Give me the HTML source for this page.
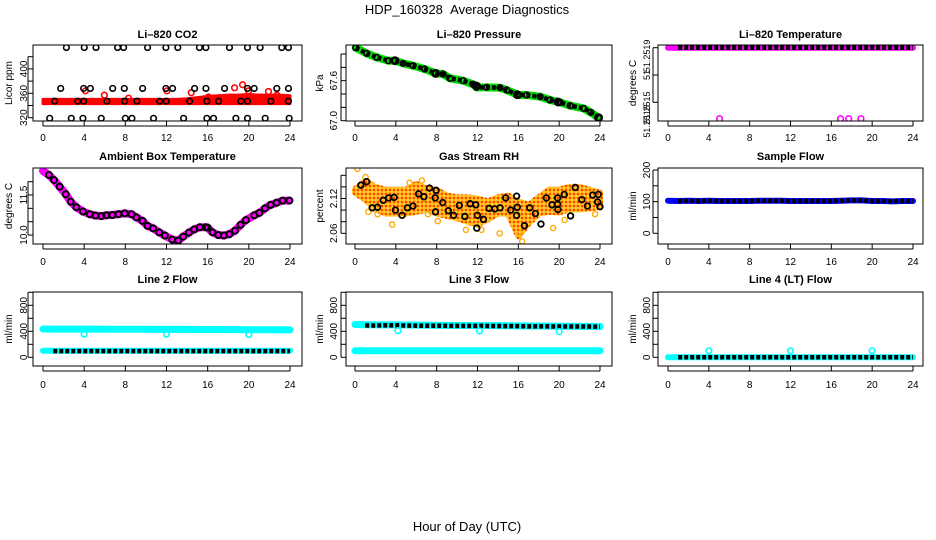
<!DOCTYPE html>
<html><head><meta charset="utf-8"><style>
html,body{margin:0;padding:0;background:#fff;}
svg{display:block;font-family:"Liberation Sans",sans-serif;}
</style></head><body>
<svg id="chart" width="936" height="540" viewBox="0 0 936 540">
<defs>
<pattern id="rhpat" width="4" height="4" patternUnits="userSpaceOnUse">
<rect width="4" height="4" fill="#ffd24a"/>
<circle cx="2" cy="2" r="1.5" fill="#ff3a00" stroke="#ffae00" stroke-width="0.8"/>
</pattern>
</defs>
<text x="467" y="14" font-size="13" text-anchor="middle" xml:space="preserve">HDP_160328&#160;&#160;Average Diagnostics</text>
<text x="467" y="531" font-size="13" text-anchor="middle">Hour of Day (UTC)</text>
</svg>
<script>
// ---------- data ----------
const hourTicks = [0,4,8,12,16,20,24];
const hours25 = [0,1,2,3,4,5,6,7,8,9,10,11,12,13,14,15,16,17,18,19,20,21,22,23,24];

// CO2
const co2BlackHours = [2.27,4.01,5.15,7.25,7.83,10.16,11.94,13.1,15.2,15.83,18.12,19.87,21.1,23.2,23.85,
 1.72,3.95,4.6,6.77,7.9,9.68,11.94,12.59,14.73,15.83,17.64,19.87,20.52,22.72,23.85,
 1.13,3.37,3.95,6.21,7.93,9.13,11.33,11.97,14.24,15.92,17.06,19.23,19.87,22.14,23.85,
 0.65,2.75,3.88,5.66,8.0,8.64,10.74,13.66,15.92,16.57,18.74,19.87,21.59,23.92];
const co2BlackValues = [435,435,435,435,435,435,435,435,435,435,435,435,435,435,435,
 368,368,368,368,368,368,368,368,368,368,368,368,368,368,368,
 347,347,347,347,347,347,347,347,347,347,347,347,347,347,347,
 319,319,319,319,319,319,319,319,319,319,319,319,319,319];
const co2RedLo = [343,343,343,343,343,343,343,343,343,343,343,343,343,343,343,343,343,343,343,343,343,343,343,343,343];
const co2RedHi = [350,350,350,350,350,350,350,350,350,350,350,350,350,350,351,353,355,356,357,357,358,357,357,357,356];
const co2RedOutHours = [4.12,5.96,8.32,12.04,14.4,16.08,18.61,19.39,19.97,21.91,22.72];
const co2RedOutValues = [364,357,352,364,361,354,369,374,364,363,357];

// Pressure
const presHours = [0.07,1.14,2.12,3.27,3.92,4.71,5.69,6.83,7.9,8.63,9.31,10.6,11.58,11.9,12.9,14.2,14.87,16.0,16.83,18.14,19.12,20.1,21.08,22.39,23.1];
const presValues = [68.095,68.01,67.95,67.9,67.9,67.86,67.825,67.775,67.71,67.7,67.635,67.6,67.545,67.5,67.5,67.495,67.46,67.385,67.385,67.36,67.31,67.275,67.225,67.185,67.125];
const presEndHour = 23.86, presEndValue = 67.045;

// Li-820 temperature
const tempValues = [51.2519,51.2519,51.2519,51.2519,51.2519,51.2519,51.2519,51.2519,51.2519,51.2519,51.2519,51.2519,51.2519,51.2519,51.2519,51.2519,51.2519,51.2519,51.2519,51.2519,51.2519,51.2519,51.2519,51.2519,51.2519];
const tempOutHours = [5.05,16.9,17.7,18.9];
const tempOutValues = [51.25164,51.25164,51.25164,51.25164];

// Ambient box temperature
const ambHours = [0,0.58,1.07,1.62,2.21,2.69,3.24,3.89,4.54,5.09,5.68,6.16,6.75,7.33,7.95,8.6,9.08,9.67,10.16,10.7,11.29,11.84,12.55,13.14,13.62,14.18,14.69,15.24,15.82,15.99,16.47,17.03,17.58,18.1,18.65,19.2,19.72,20.53,21.02,21.57,22.12,22.7,23.29,23.94];
const ambValues = [12.4,12.25,12.06,11.81,11.53,11.25,11.04,10.88,10.78,10.73,10.71,10.74,10.75,10.78,10.81,10.78,10.66,10.53,10.34,10.25,10.1,9.98,9.83,9.79,9.94,10.09,10.21,10.29,10.29,10.28,10.1,10.0,9.98,10.03,10.16,10.38,10.56,10.74,10.83,11.0,11.13,11.21,11.29,11.29];

// Gas stream RH
const rhBlackHours = [0.58,1.14,1.69,2.21,2.76,3.31,3.83,3.96,4.61,5.13,5.68,6.23,6.75,7.3,7.85,7.88,7.95,8.59,9.14,9.66,10.22,10.77,11.28,11.83,11.93,11.99,12.58,13.14,13.69,14.21,14.76,15.25,15.83,15.9,15.83,16.6,17.12,17.67,18.22,18.74,19.3,19.85,19.88,19.85,20.5,21.12,21.57,22.22,22.77,23.29,23.84,23.77,24.0];
const rhBlackValues = [2.143,2.149,2.104,2.105,2.117,2.121,2.122,2.100,2.091,2.104,2.107,2.128,2.123,2.138,2.121,2.097,2.134,2.113,2.099,2.091,2.108,2.089,2.111,2.109,2.069,2.091,2.084,2.103,2.102,2.104,2.121,2.100,2.124,2.105,2.091,2.073,2.104,2.094,2.076,2.121,2.109,2.121,2.101,2.110,2.127,2.090,2.139,2.118,2.107,2.126,2.127,2.114,2.106];
const rhBandHi = [2.136,2.150,2.140,2.135,2.135,2.135,2.145,2.137,2.135,2.125,2.122,2.122,2.120,2.115,2.122,2.125,2.115,2.109,2.122,2.135,2.135,2.140,2.140,2.135,2.130];
const rhBandLo = [2.130,2.118,2.102,2.094,2.094,2.094,2.097,2.101,2.094,2.090,2.086,2.080,2.075,2.084,2.094,2.094,2.055,2.077,2.094,2.097,2.096,2.101,2.101,2.103,2.106];
const rhOutHours = [0.23,1.04,1.3,2.21,3.64,5.35,6.55,7.14,8.11,10.87,12.39,14.17,16.15,16.37,19.41,20.53,23.52];
const rhOutValues = [2.171,2.157,2.097,2.093,2.075,2.147,2.151,2.093,2.081,2.066,2.066,2.060,2.060,2.046,2.069,2.083,2.093];

// Sample flow
const sampleValues = [103,102,103,102,103,102,102,102,102,103,103,103,102,102,102,102,102,103,104,104,102,102,101,102,102];

// Line 2 flow
const l2HighValues = [435,434,434,433,433,433,432,432,432,431,431,430,430,429,429,428,428,427,426,425,424,424,423,423,422];
const l2LowValues = [100,100,100,100,100,100,100,100,100,100,100,100,100,100,100,100,100,100,100,100,100,100,100,100,100];
const l2BlackValues = [95,95,95,95,95,95,95,95,95,95,95,95,95,95,95,95,95,95,95,95,95,95,95,95,95];
const l2OutHours = [4.0,12.0,20.0];
const l2OutValues = [356,356,350];

// Line 3 flow
const l3HighValues = [505,500,498,498,500,496,495,494,492,491,490,489,488,488,487,486,484,482,481,480,478,477,476,475,474];
const l3BlackValues = [495,490,488,492,492,488,486,485,486,484,483,484,484,482,481,480,479,476,476,475,474,474,474,473,472];
const l3LowValues = [100,100,100,100,100,100,100,100,100,100,100,100,100,100,100,100,100,100,100,100,100,100,100,100,100];
const l3OutHours = [4.2,12.2,20.0];
const l3OutValues = [410,405,395];

// Line 4 flow
const l4Values = [0,0,0,0,0,0,0,0,0,0,0,0,0,0,0,0,0,0,0,0,0,0,0,0,0];
const l4OutHours = [4.0,12.0,20.0];
const l4OutValues = [100,100,100];

// ---------- helpers ----------
const svg = document.getElementById('chart');
const NS = 'http://www.w3.org/2000/svg';
function mk(tag, attrs, parent){
  const e = document.createElementNS(NS, tag);
  for (const k in attrs) e.setAttribute(k, attrs[k]);
  (parent||svg).appendChild(e);
  return e;
}
const cols = [{bx0:33,bx1:302,x0:43,x24:290,ylab:8,ytick:23},
              {bx0:346,bx1:612,x0:355,x24:600,ylab:319,ytick:333},
              {bx0:658,bx1:923,x0:668,x24:913,ylab:632,ytick:646}];
const rows = [{by0:45,by1:121,tickLab:141,title:38},
              {by0:168,by1:244,tickLab:265,title:160},
              {by0:292,by1:366,tickLab:388,title:283}];

function makePanel(name, col, row, title, ylabel, yv0, yp0, yv1, yp1, ticks, labels, labelVals, labSize){
  const c = cols[col], r = rows[row];
  const g = mk('g', {});
  
  
  const X = h => c.x0 + (h/24)*(c.x24-c.x0);
  const Y = v => yp0 + (v-yv0)*(yp1-yp0)/(yv1-yv0);
  const clipId = 'clip-' + name;
  const cp = mk('clipPath', {id:clipId}, g);
  mk('rect', {x:c.bx0, y:r.by0, width:c.bx1-c.bx0, height:r.by1-r.by0}, cp);
  const plot = mk('g', {'clip-path':'url(#'+clipId+')'}, g);
  
  
  const t = mk('text', {x:(c.bx0+c.bx1)/2, y:r.title, 'font-size':11, 'font-weight':'bold', 'text-anchor':'middle'}, g);
  t.textContent = title;
  
  
  const yl = mk('text', {x:0, y:0, 'font-size':10, 'text-anchor':'middle', transform:'translate('+(c.ylab+4)+','+((r.by0+r.by1)/2)+') rotate(-90)'}, g);
  yl.textContent = ylabel;
  
  
  const ax = mk('g', {stroke:'#000', 'stroke-width':1, fill:'none'}, g);
  
  
  hourTicks.forEach(h => {
    mk('line', {x1:X(h), x2:X(h), y1:r.by1, y2:r.by1+5}, ax);
    const tl = mk('text', {x:X(h), y:r.tickLab, 'font-size':10, 'text-anchor':'middle', fill:'#000', stroke:'none'}, g);
    tl.textContent = h;
    
    
  });
  mk('line', {x1:X(0), x2:X(24), y1:r.by1+5, y2:r.by1+5}, ax);
  ticks.forEach(v => mk('line', {x1:c.bx0-5, x2:c.bx0, y1:Y(v), y2:Y(v)}, ax));
  mk('line', {x1:c.bx0-5, x2:c.bx0-5, y1:Y(ticks[0]), y2:Y(ticks[ticks.length-1])}, ax);
  labels.forEach((lab, i) => {
    const ty = Y(labelVals[i]);
    const tl = mk('text', {x:0, y:0, 'font-size':labSize||10, 'text-anchor':'middle', transform:'translate('+(c.ytick+4)+','+ty+') rotate(-90)'}, g);
    tl.textContent = lab;
    
    
  });
  const box = mk('rect', {x:c.bx0, y:r.by0, width:c.bx1-c.bx0, height:r.by1-r.by0, fill:'none', stroke:'#000', 'stroke-width':1}, g);
  
  
  return {X, Y, plot};
}
function circles(p, hs, vs, color, name, r, sw){
  hs.forEach((h, i) => {
    const e = mk('circle', {cx:p.X(h), cy:p.Y(vs[i]), r:r||2.8, fill:'none', stroke:color, 'stroke-width':sw||1.6}, p.plot);
    
    
  });
}
function band(p, hs, vs, color, width, name){
  const pts = hs.map((h,i) => p.X(h)+','+p.Y(vs[i])).join(' ');
  const e = mk('polyline', {points:pts, fill:'none', stroke:color, 'stroke-width':width, 'stroke-linejoin':'round', 'stroke-linecap':'round'}, p.plot);
  
  
}
function area(p, hs, lo, hi, color, sw, name){
  const a = hs.map((h,i)=>p.X(h)+','+p.Y(hi[i]));
  const b = hs.map((h,i)=>p.X(h)+','+p.Y(lo[i])).reverse();
  const e = mk('polygon', {points:a.concat(b).join(' '), fill:color, stroke:color, 'stroke-width':sw, 'stroke-linejoin':'round'}, p.plot);
  
  
}
function dotted(p, hs, vs, name){
  const pts = hs.map((h,i) => p.X(h)+','+p.Y(vs[i])).join(' ');
  const e = mk('polyline', {points:pts, fill:'none', stroke:'#000', 'stroke-width':4.5, 'stroke-dasharray':'4 2'}, p.plot);
  
  
}

// ---------- panels ----------
let p = makePanel('co2', 0, 0, 'Li\u2013820 CO2', 'Licor ppm', 320, 117.7, 360, 93.3, [320,340,360,380,400,420], ['320','360','400'], [320,360,400]);
area(p, hours25, co2RedLo, co2RedHi, '#ff0000', 3, 'co2-red-band');
circles(p, co2RedOutHours, co2RedOutValues, '#ff0000', 'co2-red-point');
circles(p, co2BlackHours, co2BlackValues, '#000', 'co2-black-point');

p = makePanel('pressure', 1, 0, 'Li\u2013820 Pressure', 'kPa', 67.0, 120.7, 67.6, 80.7, [67.0,67.2,67.4,67.6,67.8,68.0], ['67.0','67.6'], [67.0,67.6]);
band(p, presHours.concat([presEndHour]), presValues.concat([presEndValue]), '#00dd00', 8, 'pressure-green-band');
dotted(p, presHours.concat([presEndHour]), presValues.concat([presEndValue]), 'pressure-black-trace');
circles(p, presHours, presValues, '#000', 'pressure-point');
circles(p, [3.92,7.9,11.9,15.9,19.9,presEndHour], [67.9,67.71,67.52,67.39,67.28,presEndValue], '#000', 'pressure-point', 3.2, 2.5);

p = makePanel('temperature', 2, 0, 'Li\u2013820 Temperature', 'degrees C', 51.2519, 47.7, 51.2518, 75, [51.2519,51.2518,51.2517], ['51.2519','51','51.2515','51.2515'], [51.25187,51.2518,51.25168,51.25163], 9);
band(p, hours25, tempValues, '#ff00ff', 6, 'temperature-magenta-band');
dotted(p, hours25.slice(1), tempValues.slice(1), 'temperature-black-trace');
circles(p, tempOutHours, tempOutValues, '#ff00ff', 'temperature-outlier');

p = makePanel('ambient', 0, 1, 'Ambient Box Temperature', 'degrees C', 10.0, 235, 11.5, 195, [10.0,10.5,11.0,11.5,12.0], ['10.0','11.5'], [10.0,11.5]);
band(p, ambHours, ambValues, '#ff00ff', 8, 'ambient-magenta-band');
circles(p, ambHours.slice(1), ambValues.slice(1), '#000', 'ambient-point', 3, 2);

p = makePanel('rh', 1, 1, 'Gas Stream RH', 'percent', 2.06, 233.3, 2.08, 221.7, [2.06,2.08,2.10,2.12,2.14,2.16], ['2.06','2.12'], [2.06,2.12]);
area(p, hours25, rhBandLo, rhBandHi, 'url(#rhpat)', 6, 'rh-orange-cloud');
circles(p, rhOutHours, rhOutValues, '#ffaa00', 'rh-outlier', 2.6, 1.4);
circles(p, rhBlackHours, rhBlackValues, '#000', 'rh-black-point', 2.8, 1.8);

p = makePanel('sample-flow', 2, 1, 'Sample Flow', 'ml/min', 0, 233.3, 200, 170, [0,50,100,150,200], ['0','100','200'], [0,100,200]);
band(p, hours25, sampleValues, '#0000ff', 6, 'sample-flow-blue-band');
dotted(p, hours25.slice(1), sampleValues.slice(1), 'sample-flow-black-trace');

p = makePanel('line2-flow', 0, 2, 'Line 2 Flow', 'ml/min', 0, 357.3, 400, 331.3, [0,200,400,600,800,1000], ['0','400','800'], [0,400,800]);
band(p, hours25, l2HighValues, '#00ffff', 7, 'line2-cyan-high-band');
band(p, hours25, l2LowValues, '#00ffff', 6, 'line2-cyan-low-band');
dotted(p, hours25.slice(1), l2BlackValues.slice(1), 'line2-black-trace');
circles(p, l2OutHours, l2OutValues, '#00ffff', 'line2-outlier');

p = makePanel('line3-flow', 1, 2, 'Line 3 Flow', 'ml/min', 0, 357.3, 400, 331.3, [0,200,400,600,800,1000], ['0','400','800'], [0,400,800]);
band(p, hours25, l3HighValues, '#00ffff', 7, 'line3-cyan-high-band');
band(p, hours25, l3LowValues, '#00ffff', 7, 'line3-cyan-low-band');
dotted(p, hours25.slice(1), l3BlackValues.slice(1), 'line3-black-trace');
circles(p, l3OutHours, l3OutValues, '#00ffff', 'line3-outlier');

p = makePanel('line4-flow', 2, 2, 'Line 4 (LT) Flow', 'ml/min', 0, 357.3, 400, 331.3, [0,200,400,600,800,1000], ['0','400','800'], [0,400,800]);
band(p, hours25, l4Values, '#00ffff', 6, 'line4-cyan-band');
dotted(p, hours25.slice(1), l4Values.slice(1), 'line4-black-trace');
circles(p, l4OutHours, l4OutValues, '#00ffff', 'line4-outlier');
</script>
</body></html>
